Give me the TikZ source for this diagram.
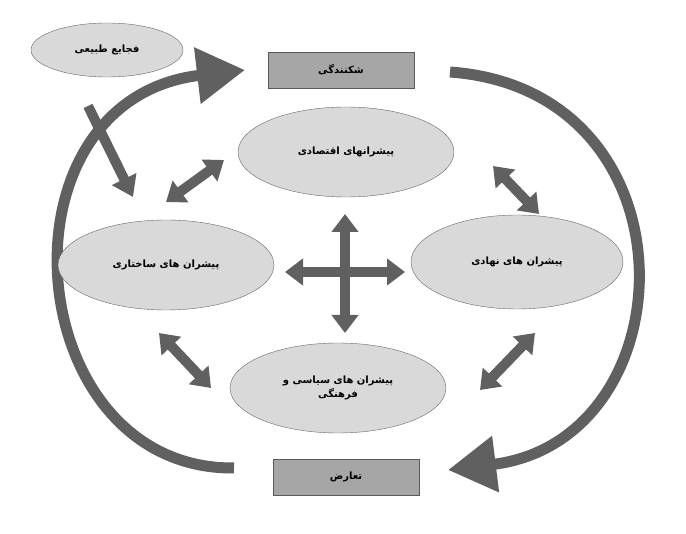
\documentclass[tikz,border=0pt]{standalone}
\usepackage{fontspec}
\TeXXeTstate=1
\newfontfamily\arfont[Script=Arabic]{DejaVu Sans}
\usetikzlibrary{arrows.meta,shapes.geometric}
\definecolor{arr}{HTML}{606060}
\definecolor{efill}{HTML}{D9D9D9}
\definecolor{rfill}{HTML}{A6A6A6}
\tikzset{
 ell/.style={ellipse,draw=gray!80!black,fill=efill,minimum width=2*#1,inner sep=0pt,font=\arfont\bfseries\fontsize{10}{14}\selectfont,align=center},
 ell/.default=108pt,
 box/.style={rectangle,draw=gray!70!black,fill=rfill,minimum width=146pt,minimum height=36pt,font=\arfont\bfseries\fontsize{10}{12}\selectfont},
 dbl/.style={draw=arr,line width=10pt,{Triangle[length=18pt,width=26pt]}-{Triangle[length=18pt,width=26pt]}},
 sgl/.style={draw=arr,line width=10pt,-{Triangle[length=20pt,width=26pt]}},
 big/.style={draw=arr,line width=11pt,-{Triangle[length=48pt,width=54pt]}}
}
\begin{document}
\begin{tikzpicture}[x=1pt,y=-1pt]
\useasboundingbox (0,0) rectangle (686,534);
\coordinate (ls) at (234,468); \coordinate (le) at (245,70);
\draw[big] (ls) .. controls (20,470) and (-10,100) .. (le);
\coordinate (rs) at (450,72); \coordinate (re) at (448,470);
\draw[big] (rs) .. controls (700,90) and (690,440) .. (re);
\node[ell=76pt,minimum height=54pt] (nat) at (107,50) {\beginR فجایع طبیعی\endR};
\node[box] (shk) at (341,70) {\beginR شکنندگی\endR};
\node[box] (taz) at (346,477) {\beginR تعارض\endR};
\node[ell,minimum height=90pt] (eco) at (346,152) {\beginR پیشرانهای اقتصادی\endR};
\node[ell,minimum height=90pt] (str) at (166,265) {\beginR پیشران های ساختاری\endR};
\node[ell=106pt,minimum height=94pt] (nah) at (517,262) {\beginR پیشران های نهادی\endR};
\node[ell,minimum height=90pt] (pol) at (338,388) {\beginR پیشران های سیاسی و\endR\\\beginR فرهنگی\endR};
\coordinate (cl) at (285,272); \coordinate (cr) at (405,272);
\coordinate (cu) at (345,214); \coordinate (cd) at (345,333);
\draw[dbl] (cl) -- (cr);
\draw[dbl] (cu) -- (cd);
\coordinate (a1) at (166,202); \coordinate (a2) at (224,160);
\coordinate (b1) at (493,166); \coordinate (b2) at (539,214);
\coordinate (d1) at (159,333); \coordinate (d2) at (211,388);
\coordinate (e1) at (480,390); \coordinate (e2) at (535,333);
\draw[dbl] (a1) -- (a2);
\draw[dbl] (b1) -- (b2);
\draw[dbl] (d1) -- (d2);
\draw[dbl] (e1) -- (e2);
\coordinate (x1) at (88,106); \coordinate (x2) at (133,197);
\draw[sgl] (x1) -- (x2);
\end{tikzpicture}
\end{document}
